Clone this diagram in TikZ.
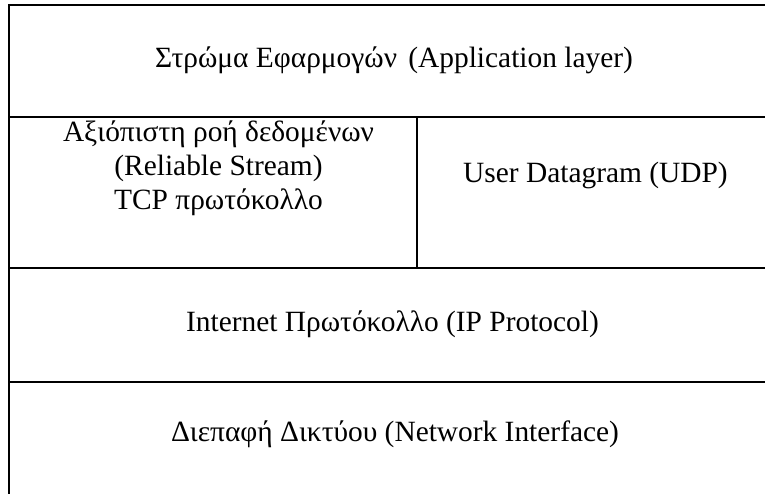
\documentclass[tikz,border=0pt]{standalone}
\usepackage{fontspec}
\setmainfont{Liberation Serif}
\begin{document}
\begin{tikzpicture}[x=1pt,y=-1pt,
  frame/.style={line width=2.2pt,black},
  lbl/.style={font=\fontsize{29.4}{34}\selectfont,align=center,inner sep=0pt,anchor=base}]
\useasboundingbox (0,0) rectangle (765,494);
\begin{scope}
\clip (0,0) rectangle (765,494);
\draw[frame] (9,505) -- (9,5) -- (780,5);
\draw[frame] (9,117) -- (780,117);
\draw[frame] (9,268) -- (780,268);
\draw[frame] (9,382) -- (780,382);
\draw[frame] (417,117) -- (417,268);
\end{scope}
\node[lbl] (app) at (394,68) {Στρώμα Εφαρμογών \hspace{4pt}(Application layer)};
\node[lbl,anchor=north] (tcp) at (218.5,121) {Αξιόπιστη ροή δεδομένων\\(Reliable Stream)\\TCP πρωτόκολλο};
\node[lbl] (udp) at (595.5,183) {User Datagram (UDP)};
\node[lbl] (ip) at (392.5,331) {Internet Πρωτόκολλο (IP Protocol)};
\node[lbl] (net) at (395,441) {Διεπαφή Δικτύου (Network Interface)};
\end{tikzpicture}
\end{document}
